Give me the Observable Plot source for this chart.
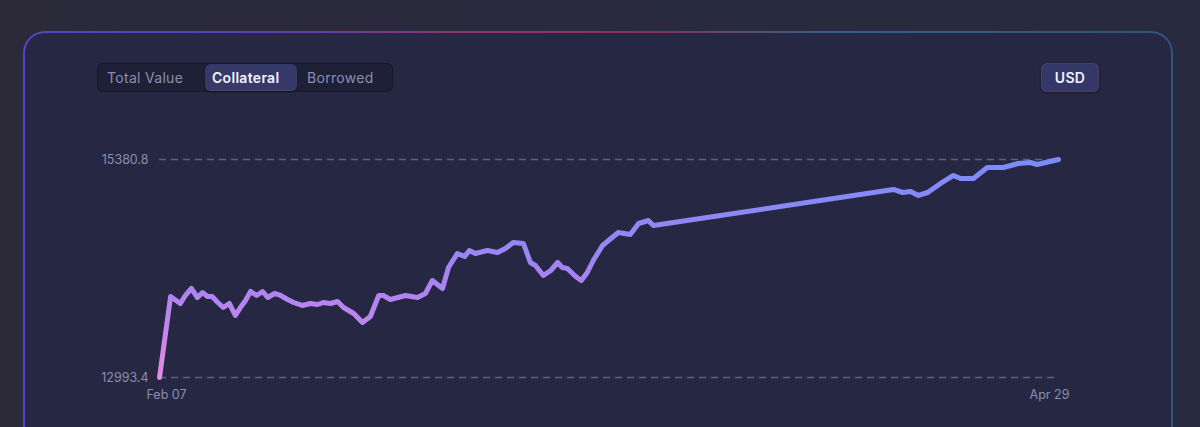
<!DOCTYPE html>
<html>
<head>
<meta charset="utf-8">
<script src="https://cdn.jsdelivr.net/npm/d3@7"></script>
<script src="https://cdn.jsdelivr.net/npm/@observablehq/plot@0.6"></script>
<style>
  html, body { margin: 0; padding: 0; }
  body { width: 1200px; height: 427px; overflow: hidden;
    background: linear-gradient(90deg, #2c2a39 0%, #292a3e 50%, #282a3d 100%);
    font-family: Inter, "Noto Sans", sans-serif; }
  #page { position: relative; width: 1200px; height: 427px; overflow: hidden; }
  #card { position: absolute; left: 23px; top: 31px; width: 1146px; height: 440px;
    border: 2px solid transparent; border-radius: 22px;
    background:
      linear-gradient(#262843, #262843) padding-box,
      linear-gradient(90deg, #5544c4 0%, #5e40b4 22%, #943564 42%, #86345a 55%, #35608a 70%, #30557a 100%) border-box; }
  #seg { position: absolute; left: 97px; top: 63px; width: 294px; height: 27px;
    background: #1e2037; border: 1px solid #15172a; border-radius: 6px; }
  .opt { position: absolute; top: 0; height: 27px; line-height: 27px; font-size: 14px; color: #8a8eb2; letter-spacing: 0.3px; }
  #active { position: absolute; left: 107px; top: 0px; width: 92px; height: 27px;
    background: #353a68; border-radius: 6px;
    box-shadow: inset 0 -1px 0 rgba(150,90,90,0.35), 0 1px 2px rgba(0,0,0,0.35); }
  #usd { position: absolute; left: 1041px; top: 63px; width: 58px; height: 29px;
    background: #343869; border-radius: 6px; color: #f2f2ff; font-size: 14px; font-weight: 600;
    line-height: 29px; text-align: center; letter-spacing: 0.3px;
    box-shadow: inset 0 0 0 1px rgba(110,70,100,0.45), 0 1px 3px rgba(0,0,0,0.45); }
  #chart { position: absolute; left: 0; top: 130px; }
</style>
</head>
<body>
<div id="page">
  <div id="card"></div>
  <div id="seg">
    <div id="active"></div>
    <div class="opt" style="left:9px">Total Value</div>
    <div class="opt" style="left:114px;color:#f3f3ff;font-weight:600">Collateral</div>
    <div class="opt" style="left:209px">Borrowed</div>
  </div>
  <div id="usd">USD</div>
  <div id="chart"></div>
</div>
<script>
const dates = [
"2025-02-07 00","2025-02-08 00","2025-02-08 21","2025-02-09 08","2025-02-09 21","2025-02-10 10","2025-02-10 21","2025-02-11 08","2025-02-11 18","2025-02-12 06",
"2025-02-12 18","2025-02-13 07","2025-02-13 20","2025-02-14 07","2025-02-14 18","2025-02-15 05","2025-02-15 18","2025-02-16 07","2025-02-16 18","2025-02-17 09",
"2025-02-17 22","2025-02-18 13","2025-02-19 02","2025-02-19 21","2025-02-20 14","2025-02-21 06","2025-02-21 18","2025-02-22 10","2025-02-23 01","2025-02-23 14",
"2025-02-24 12","2025-02-25 07","2025-02-26 00","2025-02-26 18","2025-02-27 04","2025-02-27 19",
"2025-03-01 04","2025-03-02 06","2025-03-02 23","2025-03-03 14","2025-03-04 12","2025-03-05 01","2025-03-05 20","2025-03-06 12","2025-03-06 22","2025-03-07 11",
"2025-03-08 13","2025-03-09 11","2025-03-10 04","2025-03-10 21","2025-03-11 19","2025-03-12 10","2025-03-12 21","2025-03-13 14","2025-03-14 06","2025-03-14 21",
"2025-03-15 07","2025-03-15 18","2025-03-16 12","2025-03-17 00","2025-03-17 13","2025-03-18 02","2025-03-18 22","2025-03-19 11","2025-03-20 08","2025-03-21 10",
"2025-03-22 04","2025-03-23 01","2025-03-23 12",
"2025-04-14 03","2025-04-14 23","2025-04-15 16","2025-04-16 09","2025-04-17 05","2025-04-18 09","2025-04-19 13","2025-04-20 04","2025-04-21 08","2025-04-22 14",
"2025-04-24 01","2025-04-25 09","2025-04-26 11","2025-04-27 02","2025-04-29 00"
];
const values = [
12993.4,13880.5,13803.9,13891.5,13968.1,13869.6,13924.3,13880.5,13880.5,13814.8,
13760.1,13803.9,13672.4,13760.1,13836.7,13935.3,13891.5,13935.3,13869.6,13913.4,
13891.5,13847.7,13814.8,13782.0,13803.9,13792.9,13814.8,13803.9,13825.8,13760.1,
13694.3,13595.8,13661.5,13891.5,13891.5,13847.7,
13891.5,13869.6,13913.4,14055.7,13968.1,14198.1,14351.4,14318.6,14384.3,14351.4,
14384.3,14362.4,14406.2,14471.9,14460.9,14252.8,14220.0,14110.5,14165.2,14252.8,
14198.1,14187.1,14099.5,14055.7,14143.3,14274.7,14439.0,14493.8,14581.4,14559.5,
14679.9,14712.8,14658.0,
15052.3,15019.4,15030.4,14986.6,15019.4,15118.0,15205.6,15172.7,15172.7,15293.2,
15293.2,15337.0,15347.9,15326.0,15380.8
];
const yTicks = [12993.4, 15380.8];
const xTickLabels = ["Feb 07", "Apr 29"];

const parse = d3.utcParse("%Y-%m-%d %H");
const data = dates.map((d, i) => ({date: parse(d), value: values[i]}));
const x0 = data[0].date, x1 = data[data.length - 1].date;

const labelFont = "Inter, 'Noto Sans', sans-serif";
const chart = Plot.plot({
  width: 1200,
  height: 290,
  marginLeft: 159,
  marginRight: 142,
  marginTop: 29,
  marginBottom: 43,
  style: {background: "transparent", fontFamily: labelFont, overflow: "visible"},
  x: {type: "utc", domain: [x0, x1], axis: null},
  y: {domain: [yTicks[0], yTicks[1]], axis: null},
  marks: [
    Plot.ruleY(yTicks, {stroke: "#5d6085", strokeWidth: 1.5, strokeDasharray: "7,5"}),
    Plot.line(data, {x: "date", y: "value", stroke: "url(#lineGrad)", strokeWidth: 5,
      curve: "linear", strokeLinecap: "round", strokeLinejoin: "round"}),
    Plot.text(yTicks, {y: d => d, text: d => d.toFixed(1), frameAnchor: "left", textAnchor: "end",
      dx: -11, fill: "#8a8db0", fontSize: 12.5, letterSpacing: 0.2}),
    Plot.text([xTickLabels[0]], {x: () => x0, text: d => d, frameAnchor: "bottom", dy: 21, dx: 7,
      fill: "#8a8db0", fontSize: 12.5}),
    Plot.text([xTickLabels[1]], {x: () => x1, text: d => d, frameAnchor: "bottom", dy: 21, dx: -9,
      fill: "#8a8db0", fontSize: 12.5})
  ]
});

const ys = chart.scale("y");
const yBottom = ys.apply(yTicks[0]), yTop = ys.apply(yTicks[1]);
const svgNS = "http://www.w3.org/2000/svg";
const defs = document.createElementNS(svgNS, "defs");
const grad = document.createElementNS(svgNS, "linearGradient");
grad.setAttribute("id", "lineGrad");
grad.setAttribute("gradientUnits", "userSpaceOnUse");
grad.setAttribute("x1", 0); grad.setAttribute("x2", 0);
grad.setAttribute("y1", yBottom); grad.setAttribute("y2", yTop);
[[0, "#e48ae2"], [0.2, "#c686ec"], [0.4, "#ad83f0"], [0.62, "#9586f4"], [1, "#7b8cf7"]].forEach(([o, c]) => {
  const s = document.createElementNS(svgNS, "stop");
  s.setAttribute("offset", o); s.setAttribute("stop-color", c);
  grad.appendChild(s);
});
defs.appendChild(grad);
chart.insertBefore(defs, chart.firstChild);

document.getElementById("chart").appendChild(chart);
</script>
</body>
</html>
